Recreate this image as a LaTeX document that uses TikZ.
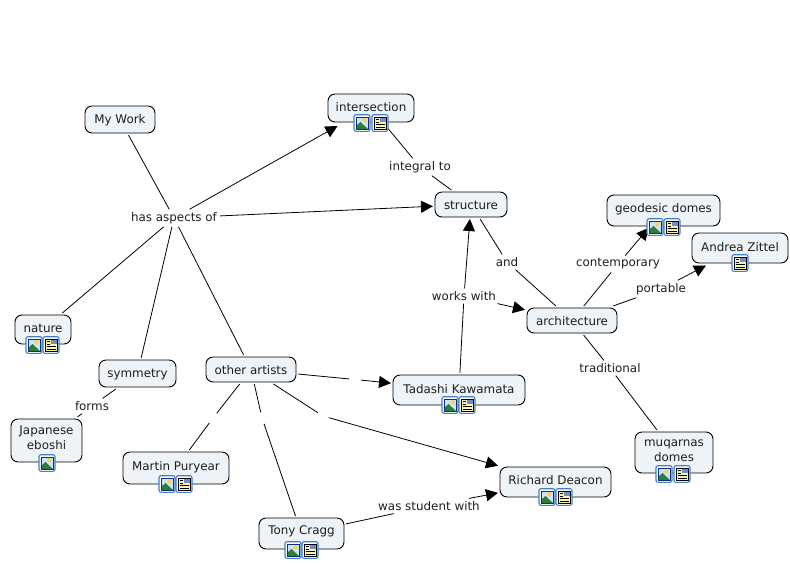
\documentclass[tikz,border=0pt]{standalone}
\usepackage{fontspec}
\setmainfont{DejaVu Sans}
\usetikzlibrary{arrows.meta}
\definecolor{nodefill}{HTML}{EDF3F6}
\definecolor{iconblue}{HTML}{3F7FCC}
\definecolor{iconnavy}{HTML}{12306E}
\definecolor{iconsky}{HTML}{CFE2F5}
\definecolor{iconsun}{HTML}{F2D65A}
\definecolor{iconhill}{HTML}{2E7D3A}
\definecolor{iconpaper}{HTML}{FBF3B0}
\definecolor{iconpic}{HTML}{6F8FC8}
\definecolor{inktext}{HTML}{1E1E1E}
\tikzset{
  concept/.style={draw=black,line width=0.9pt,fill=nodefill,rounded corners=7pt,inner sep=0pt,outer sep=2pt},
  concepttext/.style={inner sep=0pt,align=center,text=inktext,font=\fontsize{11.9}{15}\selectfont},
  linklabel/.style={inner sep=0pt,outer sep=3pt,text=inktext,font=\fontsize{11.9}{14}\selectfont},
  gapmark/.style={inner sep=0pt,outer sep=0pt,minimum size=12pt,circle},
  link/.style={draw=black,line width=0.8pt},
  arrowlink/.style={link,-{Triangle[length=12pt,width=12pt]}},
  imgicon/.pic={
    \draw[iconblue,fill=white,rounded corners=2pt,line width=1.1pt] (-8,-8.3) rectangle (8,8.3);
    \fill[iconsky] (-6,-6) rectangle (6,6);
    \fill[iconsun] (2.5,-2.8) circle (2.2);
    \fill[iconhill] (-6,6) -- (-6,3) -- (-1.5,-1) -- (6,6) -- cycle;
    \draw[iconnavy,line width=.8pt] (-6,-6) rectangle (6,6);
  },
  docicon/.pic={
    \draw[iconblue,fill=white,rounded corners=2pt,line width=1.1pt] (-8,-8.3) rectangle (8,8.3);
    \fill[iconpaper] (-6,-6) rectangle (6,6);
    \fill[iconpic] (0,-6) rectangle (6,-1);
    \draw[black,line width=.6pt] (-4.5,-3.5) -- (-1,-3.5) (-4.5,-1) -- (-1,-1) (-4.5,1.5) -- (4.5,1.5) (-4.5,4) -- (4.5,4);
    \draw[black,line width=.7pt] (-6,-6) rectangle (6,6);
  }
}
\newcommand{\cbox}[7]{% name, x0, y0, x1, y1, text, text offset
  \node[concept,minimum width=#4pt-#2pt,minimum height=#5pt-#3pt] (#1) at ({(#2+#4)/2},{(#3+#5)/2}) {};
  \node[concepttext] (#1text) at ($(#1.center)+(0,#7)$) {#6};}
\usetikzlibrary{calc}
\begin{document}
\begin{tikzpicture}[x=1pt,y=-1pt]
\useasboundingbox (0,0) rectangle (790,563);
% concepts
\cbox{mywork}{85}{106}{155}{133}{My Work}{0.8}
\cbox{intersection}{328}{94}{414}{122}{intersection}{-1}
\cbox{structure}{435}{192}{507}{217}{structure}{0.8}
\cbox{geodesic}{607}{195}{720}{226}{geodesic domes}{-1}
\cbox{zittel}{692}{233}{788}{263}{Andrea Zittel}{-1}
\cbox{architecture}{527}{308}{617}{333}{architecture}{0.8}
\cbox{nature}{15}{315}{71}{344}{nature}{-1}
\cbox{symmetry}{99}{360}{176}{387}{symmetry}{0.8}
\cbox{otherartists}{206}{357}{296}{382}{other artists}{0.8}
\cbox{eboshi}{11}{419}{82}{462}{Japanese\\eboshi}{-2.5}
\cbox{kawamata}{393}{375}{525}{405}{Tadashi Kawamata}{-1}
\cbox{puryear}{123}{452}{229}{484}{Martin Puryear}{-1}
\cbox{cragg}{259}{518}{344}{549}{Tony Cragg}{-2}
\cbox{deacon}{500}{467}{611}{497}{Richard Deacon}{-2}
\cbox{muqarnas}{635}{432}{713}{473}{muqarnas\\domes}{-2}
% link labels
\node[linklabel] (aspects) at (174,218) {has aspects of};
\node[linklabel] (integral) at (420,167) {integral to};
\node[linklabel] (and) at (507,262) {and};
\node[linklabel] (contemporary) at (618,264) {contemporary};
\node[linklabel] (portable) at (661,289) {portable};
\node[linklabel] (traditional) at (610,368) {traditional};
\node[linklabel] (workswith) at (464,296) {works with};
\node[linklabel] (student) at (429,506) {was student with};
\node[linklabel] (forms) at (92,406) {forms};
\node[gapmark] (gapkawamata) at (355,379.5) {};
\node[gapmark] (gappuryear) at (213,418) {};
\node[gapmark] (gapcragg) at (262,418) {};
\node[gapmark] (gapdeacon) at (323,416) {};
\coordinate (intersectionin) at (337.5,126);
\coordinate (zittelin) at (706,265.5);
% connectors
\draw[link] (mywork) -- (aspects);
\draw[arrowlink] (aspects) -- (intersectionin);
\draw[arrowlink] (aspects) -- (structure);
\draw[link] (aspects) -- (nature);
\draw[link] (aspects) -- (symmetry);
\draw[link] (aspects) -- (otherartists);
\draw[link] (intersection) -- (integral);
\draw[link] (integral) -- (structure);
\draw[link] (structure) -- (and);
\draw[link] (and) -- (architecture);
\draw[link] (architecture) -- (contemporary);
\draw[arrowlink] (contemporary) -- (geodesic);
\draw[link] (architecture) -- (portable);
\draw[arrowlink] (portable) -- (zittelin);
\draw[link] (architecture) -- (traditional);
\draw[link] (traditional) -- (muqarnas);
\draw[link] (kawamata) -- (workswith);
\draw[arrowlink] (workswith) -- (structure);
\draw[arrowlink] (workswith) -- (architecture);
\draw[link] (symmetry) -- (forms);
\draw[link] (forms) -- (eboshi);
\draw[link] (otherartists) -- (gapkawamata);
\draw[arrowlink] (gapkawamata) -- (kawamata);
\draw[link] (otherartists) -- (gappuryear);
\draw[link] (gappuryear) -- (puryear);
\draw[link] (otherartists) -- (gapcragg);
\draw[link] (gapcragg) -- (cragg);
\draw[link] (otherartists) -- (gapdeacon);
\draw[arrowlink] (gapdeacon) -- (deacon);
\draw[link] (cragg) -- (student);
\draw[arrowlink] (student) -- (deacon);
% icons
\foreach \cx/\cy in {362/123,34/345,47/463,655/227,450/405,167/484,293/550,547/497,664/474}
  \pic at (\cx,\cy) {imgicon};
\foreach \cx/\cy in {380/123,51/345,672/227,740/263,467/405,184/484,310/550,564/497,682/474}
  \pic at (\cx,\cy) {docicon};
\end{tikzpicture}
\end{document}
